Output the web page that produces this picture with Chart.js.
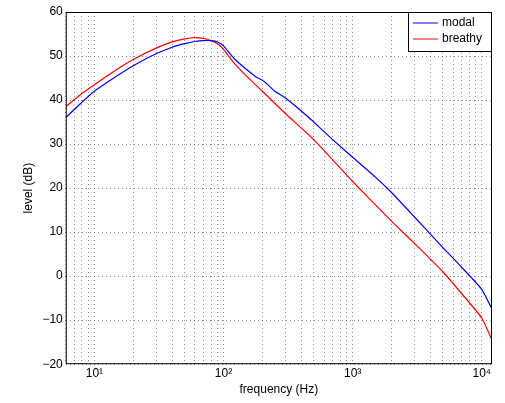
<!DOCTYPE html><html><head><script src="https://cdn.jsdelivr.net/npm/chart.js@4"></script>
<style>body{margin:0;background:#fff}#w{width:505px;height:403px}</style></head><body><div id="w"><canvas id="c"></canvas></div>
<script>
const modalF=[6,8,10,15,20,30,40,50,60,70,80,90,100,120,150,180,200,220,250,300,400,500,700,1000,1500,2000,3000,5000,7000,10000,12000];
const modalDb=[36,39.5,42,45.5,47.8,50.5,52,52.8,53.3,53.5,53.5,53.2,52.3,49.5,47,45.2,44.5,43.5,42,40.5,37.5,35,31,27,22.5,19,13.5,6.5,2,-3,-7.5];
const breathyF=[6,8,10,15,20,30,40,50,60,70,80,90,100,120,150,200,300,500,1000,2000,3000,5000,7000,10000,12000];
const breathyDb=[38.5,41.5,43.5,47,49.2,51.8,53.2,53.9,54.2,54,53.5,52.8,51.5,48.5,45.5,42,37,31,21.5,12.5,7.5,1,-4,-9.5,-14.5];
const yTicks=[-20,-10,0,10,20,30,40,50,60];
const sup={1:'¹',2:'²',3:'³',4:'⁴'};
const pts=(f,d)=>f.map((x,i)=>({x,y:d[i]}));
const legendBox={id:'lb',afterDraw(ch){const a=ch.chartArea,c=ch.ctx;const w=84,h=40,x=a.right-w,y=a.top;
c.save();c.fillStyle='#fff';c.fillRect(x,y,w,h);c.strokeStyle='#000';c.lineWidth=1;c.strokeRect(x+.5,y+.5,w-1,h-1);
c.font='12px "Liberation Sans", Arial';c.textBaseline='middle';
ch.data.datasets.forEach((d,i)=>{const yy=y+11+i*16;c.strokeStyle=d.borderColor;c.beginPath();c.moveTo(x+5,yy);c.lineTo(x+30,yy);c.stroke();c.fillStyle='#000';c.fillText(d.label,x+34,yy);});
c.strokeStyle='#000';c.strokeRect(a.left+.5,a.top+.5,a.right-a.left-1,a.bottom-a.top-1);c.restore();}};
new Chart(document.getElementById('c'),{type:'scatter',data:{datasets:[
{label:'modal',data:pts(modalF,modalDb),showLine:true,borderColor:'#0000ff',borderWidth:1.2,pointRadius:0,tension:0.15},
{label:'breathy',data:pts(breathyF,breathyDb),showLine:true,borderColor:'#ff0000',borderWidth:1.2,pointRadius:0,tension:0.15}]},
options:{animation:false,responsive:true,maintainAspectRatio:false,layout:{padding:{top:12,right:13,left:17,bottom:6}},
plugins:{legend:{display:false},tooltip:{enabled:false}},
scales:{x:{type:'logarithmic',min:6,max:12000,
afterBuildTicks(s){const t=[];for(let e=0;e<5;e++)for(let m=1;m<10;m++){const v=m*Math.pow(10,e);if(v>=6&&v<=12000)t.push({value:v});}s.ticks=t;},
ticks:{autoSkip:false,maxRotation:0,color:'#000',padding:2,font:{size:12,family:'Liberation Sans'},callback(v){const e=Math.log10(v);return Math.abs(e-Math.round(e))<1e-9?'10'+sup[Math.round(e)]:'';}},
grid:{color:'#444',lineWidth:0.6,tickLength:0,drawTicks:false},border:{display:false,dash:[1,3]},
title:{display:true,text:'frequency (Hz)',color:'#000',font:{size:12,family:'Liberation Sans'},padding:{top:0,bottom:0}}},
y:{min:-20,max:60,afterBuildTicks(s){s.ticks=yTicks.map(v=>({value:v}));},
ticks:{color:'#000',font:{size:12,family:'Liberation Sans'},callback:v=>v<0?'−'+(-v):''+v},
grid:{color:'#444',lineWidth:0.6,drawTicks:false},border:{display:false,dash:[1,3]},
title:{display:true,text:'level (dB)',color:'#000',font:{size:12,family:'Liberation Sans'}}}}},
plugins:[legendBox]});
</script></body></html>
